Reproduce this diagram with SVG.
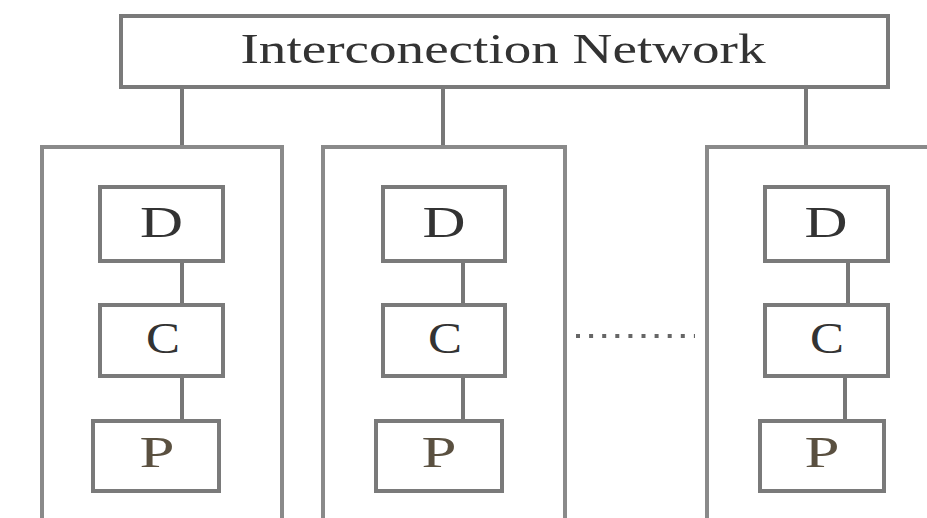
<svg xmlns="http://www.w3.org/2000/svg" width="927" height="518" viewBox="0 0 927 518">
<style>
.box{fill:#fff;stroke:#7a7a7a;stroke-width:4}
.outer{fill:#fff;stroke:#8a8a8a;stroke-width:4}
.line{stroke:#777;stroke-width:4;fill:none}
.lbl{font-family:"Liberation Serif","Times New Roman",serif;fill:#333;text-anchor:middle}
.big{font-size:44px}
</style>
<rect width="927" height="518" fill="#fff"/>
<g id="connectors">
<line class="line" x1="182" y1="87" x2="182" y2="147"/>
<line class="line" x1="443" y1="87" x2="443" y2="147"/>
<line class="line" x1="806" y1="87" x2="806" y2="147"/>
</g>
<g id="network">
<rect class="box" x="121" y="16" width="767" height="71"/>
<text class="lbl" x="503" y="63" font-size="42" textLength="525" lengthAdjust="spacingAndGlyphs">Interconection Network</text>
</g>
<g id="node1">
<rect class="outer" x="42" y="147" width="240" height="390"/>
</g>
<g id="node2">
<rect class="outer" x="323" y="147" width="242" height="390"/>
</g>
<g id="node3">
<rect class="outer" x="707" y="147" width="260" height="390"/>
</g>
<g id="inner-connectors">
<line class="line" x1="182" y1="261" x2="182" y2="305"/>
<line class="line" x1="182" y1="376" x2="182" y2="421"/>
<line class="line" x1="463" y1="261" x2="463" y2="305"/>
<line class="line" x1="463" y1="376" x2="463" y2="421"/>
<line class="line" x1="848" y1="261" x2="848" y2="305"/>
<line class="line" x1="845" y1="376" x2="845" y2="421"/>
<line x1="576" y1="336" x2="695" y2="336" stroke="#666" stroke-width="4" stroke-dasharray="4 9.1"/>
</g>
<g id="d1"><rect class="box" x="100" y="187" width="123" height="74"/><text class="lbl big" x="161.5" y="237" textLength="43" lengthAdjust="spacingAndGlyphs">D</text></g>
<g id="c1"><rect class="box" x="100" y="305" width="123" height="71"/><text class="lbl big" x="163" y="353" textLength="34" lengthAdjust="spacingAndGlyphs">C</text></g>
<g id="p1"><rect class="box" x="93" y="421" width="126" height="70"/><text class="lbl big" x="157" y="467" textLength="35" lengthAdjust="spacingAndGlyphs" style="fill:#5a5040">P</text></g>
<g id="d2"><rect class="box" x="383" y="187" width="122" height="74"/><text class="lbl big" x="444" y="237" textLength="43" lengthAdjust="spacingAndGlyphs">D</text></g>
<g id="c2"><rect class="box" x="383" y="305" width="122" height="71"/><text class="lbl big" x="445" y="353" textLength="34" lengthAdjust="spacingAndGlyphs">C</text></g>
<g id="p2"><rect class="box" x="376" y="421" width="126" height="70"/><text class="lbl big" x="439" y="467" textLength="35" lengthAdjust="spacingAndGlyphs" style="fill:#5a5040">P</text></g>
<g id="d3"><rect class="box" x="765" y="187" width="123" height="74"/><text class="lbl big" x="826" y="237" textLength="43" lengthAdjust="spacingAndGlyphs">D</text></g>
<g id="c3"><rect class="box" x="765" y="305" width="123" height="71"/><text class="lbl big" x="827" y="353" textLength="34" lengthAdjust="spacingAndGlyphs">C</text></g>
<g id="p3"><rect class="box" x="760" y="421" width="124" height="70"/><text class="lbl big" x="822" y="467" textLength="35" lengthAdjust="spacingAndGlyphs" style="fill:#5a5040">P</text></g>
</svg>
